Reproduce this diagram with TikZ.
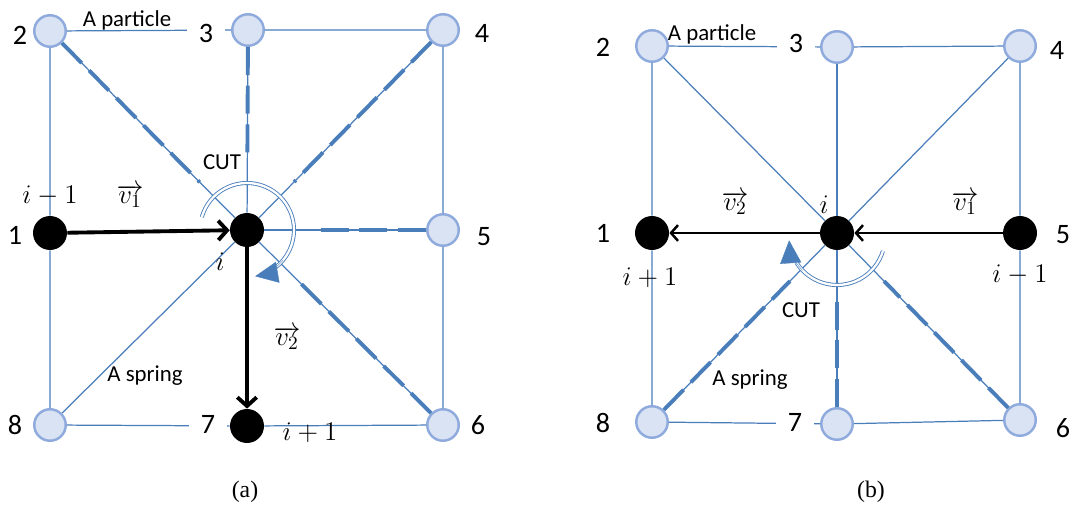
\RequirePackage{fix-cm}
\documentclass[tikz,border=0pt]{standalone}
\usepackage{fontspec}
\setmainfont{Carlito}
\newfontfamily\capfont{Liberation Serif}
\usepackage{graphicx}
\usepackage{xcolor}
\usepackage{tikz}
\usetikzlibrary{arrows.meta, positioning, calc}
\definecolor{springblue}{RGB}{74, 126, 187}
\definecolor{particlefill}{RGB}{218, 227, 243}
\definecolor{particleedge}{RGB}{143, 170, 220}
\newcommand{\bigmath}[1]{\scalebox{1.18}{$#1$}}
\tikzstyle{particle} = [circle, draw=particleedge, fill=particlefill, line width=1.4pt, minimum size=0.63cm, inner sep=0pt]
\tikzstyle{chosen} = [circle, fill=black, minimum size=0.68cm, inner sep=0pt]
\tikzstyle{spring} = [draw=springblue, line width=0.7pt]
\tikzstyle{cutspring} = [draw=springblue, line width=2.2pt, dash pattern=on 16pt off 6pt, shorten >=1cm]
\tikzstyle{num} = [font=\fontsize{16}{18}\selectfont, inner sep=1pt]
\tikzstyle{numgap} = [num, fill=white, inner xsep=7pt]
\tikzstyle{lbl} = [font=\fontsize{13}{15}\selectfont, inner sep=1pt]
\tikzstyle{captext} = [font=\capfont\fontsize{13.5}{15}\selectfont, inner sep=1pt]
\tikzstyle{vecthick} = [-{Straight Barb[length=5pt, width=11pt]}, line width=2.2pt]
\tikzstyle{vecthin} = [-{Straight Barb[length=4pt, width=9pt]}, line width=1.4pt]
\tikzstyle{cutarc} = [draw=springblue, double=white, double distance=1.3pt, line width=0.5pt]
\tikzstyle{cuttip} = [draw=springblue, line width=0.2pt, -{Triangle[length=13pt, width=12pt]}]

\begin{document}
\begin{tikzpicture}[x=0.02cm, y=0.02cm]
    \useasboundingbox (0,0) rectangle (1070,507);

    % (a) particles
    \node[particle] (a2) at (50,476) {};
    \node[particle] (a3) at (248,477) {};
    \node[particle] (a4) at (443,477) {};
    \node[chosen] (a1) at (50,274) {};
    \node[chosen] (ai) at (247,277) {};
    \node[particle] (a5) at (443,277) {};
    \node[particle] (a8) at (50,82) {};
    \node[chosen] (a7) at (247,81) {};
    \node[particle] (a6) at (443,82) {};

    % (a) springs
    \draw[spring] (a2) -- (a3) -- (a4) -- (a5) -- (a6) -- (a7) -- (a8) -- (a1) -- (a2);
    \foreach \n in {a1,a2,a3,a4,a5,a6,a8} \draw[spring] (ai) -- (\n);
    \foreach \n in {a2,a3,a4,a5,a6} \draw[cutspring] (\n) -- (ai);

    % (a) velocities
    \draw[vecthick] (a1) -- (ai);
    \draw[vecthick] (ai) -- (a7);

    % (a) cut
    \draw[cutarc] ($(ai)+(164:0.94cm)$) arc[start angle=164, end angle=-52, radius=0.94cm];
    \draw[cuttip] ($(ai)+(-40:0.94cm)$) arc[start angle=-40, end angle=-80, radius=0.94cm];

    % (a) labels
    \node[num] (a2num) at (20,472) {2};
    \node[numgap] (a3num) at (206,474) {3};
    \node[num] (a4num) at (482,474) {4};
    \node[num] (a1num) at (15,272) {1};
    \node[num] (a5num) at (484,270) {5};
    \node[num] (a8num) at (15,82) {8};
    \node[numgap] (a7num) at (208,83) {7};
    \node[num] (a6num) at (478,82) {6};
    \node[lbl] (apart) at (127,487) {A particle};
    \node[lbl] (acut) at (222,345) {CUT};
    \node[lbl] (aprev) at (50,311) {\bigmath{i-1}};
    \node[lbl] (av1) at (130,311) {\bigmath{\overrightarrow{v_1}}};
    \node[lbl] (aself) at (220,245) {\bigmath{i}};
    \node[lbl] (av2) at (287,169) {\bigmath{\overrightarrow{v_2}}};
    \node[lbl] (aspring) at (145,131) {A spring};
    \node[lbl] (anext) at (310,74) {\bigmath{i+1}};
    \node[captext] (acap) at (245,15) {(a)};

    % (b) particles
    \node[particle] (b2) at (652,461) {};
    \node[particle] (b3) at (837,460) {};
    \node[particle] (b4) at (1020,461) {};
    \node[chosen] (b1) at (652,274) {};
    \node[chosen] (bi) at (837,274) {};
    \node[chosen] (b5) at (1020,274) {};
    \node[particle] (b8) at (652,85) {};
    \node[particle] (b7) at (837,83) {};
    \node[particle] (b6) at (1020,87) {};

    % (b) springs
    \draw[spring] (b2) -- (b3) -- (b4) -- (b5) -- (b6) -- (b7) -- (b8) -- (b1) -- (b2);
    \foreach \n in {b2,b3,b4,b6,b7,b8} \draw[spring] (bi) -- (\n);
    \foreach \n in {b6,b7,b8} \draw[cutspring] (\n) -- (bi);

    % (b) velocities
    \draw[vecthin] (b5) -- (bi);
    \draw[vecthin] (bi) -- (b1);

    % (b) cut
    \draw[cutarc] ($(bi)+(0,-4)+(-17:0.96cm)$) arc[start angle=-17, end angle=-148, radius=0.96cm];
    \draw[cuttip] ($(bi)+(0,-4)+(-136:0.96cm)$) arc[start angle=-136, end angle=-176, radius=0.96cm];

    % (b) labels
    \node[num] (b2num) at (603,460) {2};
    \node[numgap] (b3num) at (796,464) {3};
    \node[num] (b4num) at (1057,457) {4};
    \node[num] (b1num) at (603,274) {1};
    \node[num] (b5num) at (1063,272) {5};
    \node[num] (b8num) at (603,84) {8};
    \node[numgap] (b7num) at (795,85) {7};
    \node[num] (b6num) at (1063,79) {6};
    \node[lbl] (bpart) at (712,473) {A particle};
    \node[lbl] (bself) at (824,302) {\bigmath{i}};
    \node[lbl] (bv2) at (735,304) {\bigmath{\overrightarrow{v_2}}};
    \node[lbl] (bv1) at (965,304) {\bigmath{\overrightarrow{v_1}}};
    \node[lbl] (bnext) at (650,229) {\bigmath{i+1}};
    \node[lbl] (bprev) at (1020,232) {\bigmath{i-1}};
    \node[lbl] (bcut) at (801,197) {CUT};
    \node[lbl] (bspring) at (750,127) {A spring};
    \node[captext] (bcap) at (871,15) {(b)};
\end{tikzpicture}
\end{document}
